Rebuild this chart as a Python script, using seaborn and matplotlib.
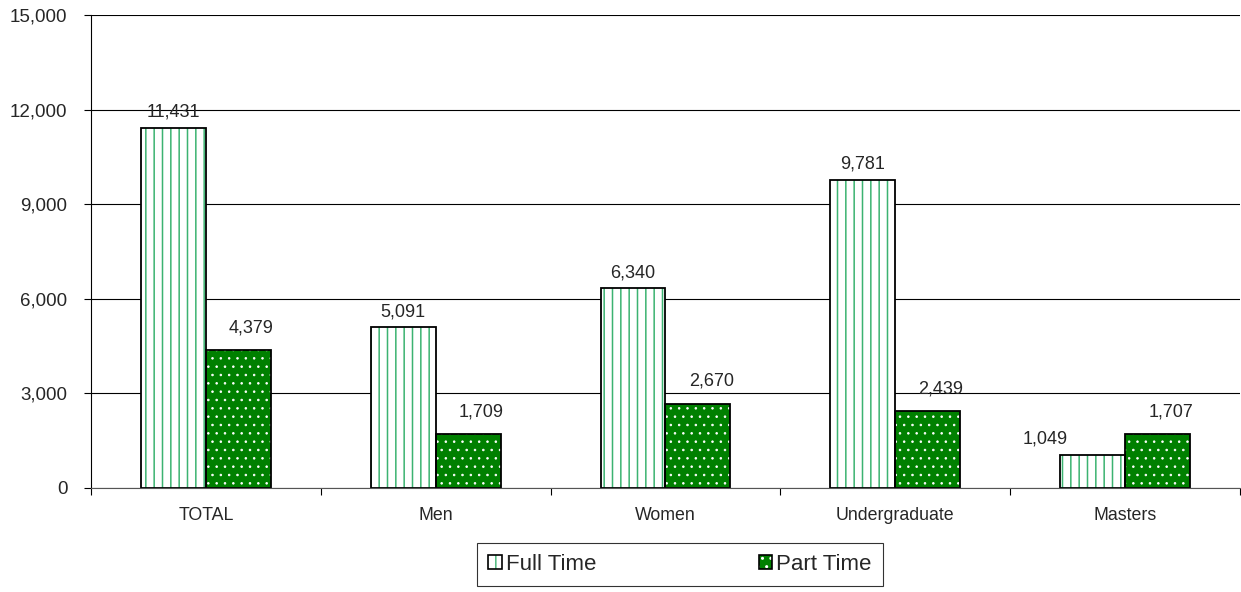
import numpy as np
import pandas as pd
import seaborn as sns
import matplotlib.pyplot as plt
from matplotlib.patches import Patch
from matplotlib.ticker import FuncFormatter

# ---- data ----
categories = ["TOTAL", "Men", "Women", "Undergraduate", "Masters"]
series = ["Full Time", "Part Time"]
full_time = [11431, 5091, 6340, 9781, 1049]
part_time = [4379, 1709, 2670, 2439, 1707]
y_ticks = [0, 3000, 6000, 9000, 12000, 15000]

df = pd.DataFrame({
    "category": categories * 2,
    "status": [series[0]] * len(categories) + [series[1]] * len(categories),
    "value": full_time + part_time,
})

# ---- style ----
sns.set_style("white")
plt.rcParams["font.family"] = ["Liberation Sans", "DejaVu Sans"]
plt.rcParams["hatch.linewidth"] = 1.0

HATCH_GREEN = "#3cb371"
DARK_GREEN = "#008000"


def style_hatch(patch, color, hatch, lw):
    patch.set_edgecolor(color)
    patch.set_hatch(hatch)
    if hasattr(patch, "set_hatch_linewidth"):
        patch.set_hatch_linewidth(lw)


fig = plt.figure(figsize=(12.41, 5.92), dpi=100)
ax = fig.add_axes([0.0733, 0.1757, 0.9259, 0.799])

# filled / hatched bars
sns.barplot(data=df, x="category", y="value", hue="status",
            order=categories, hue_order=series,
            palette={"Full Time": "white", "Part Time": DARK_GREEN},
            width=0.565, gap=0, saturation=1, linewidth=0,
            errorbar=None, legend=False, ax=ax)

for p in ax.containers[0]:
    style_hatch(p, HATCH_GREEN, "||", 1.1)
for p in ax.containers[1]:
    style_hatch(p, "white", "..", 0.6)

# black outlines on top
sns.barplot(data=df, x="category", y="value", hue="status",
            order=categories, hue_order=series,
            palette={"Full Time": "black", "Part Time": "black"},
            width=0.565, gap=0, fill=False, linewidth=1.3,
            errorbar=None, legend=False, ax=ax)

# value labels (Excel-ish placement: part time nudged right/up)
label_offsets = {0: (0, 5), 1: (9.5, 10)}
special = {("Masters", 0): (-34, 5)}
for s_idx, (cont, vals) in enumerate(zip(ax.containers[:2], [full_time, part_time])):
    for cat, p, v in zip(categories, cont, vals):
        dx, dy = special.get((cat, s_idx), label_offsets[s_idx])
        ax.annotate(f"{v:,}", xy=(p.get_x() + p.get_width() / 2, p.get_height()),
                    xytext=(dx, dy), textcoords="offset points",
                    ha="center", va="bottom", fontsize=13)

# axes
ax.set_ylim(0, 15000)
ax.set_xlim(-0.5, len(categories) - 0.5)
ax.set_yticks(y_ticks)
ax.yaxis.set_major_formatter(FuncFormatter(lambda v, _: f"{v:,.0f}"))
ax.set_xlabel("")
ax.set_ylabel("")

ax.yaxis.grid(True, color="black", linewidth=0.8)
ax.set_axisbelow(True)

ax.tick_params(axis="y", left=True, length=5, width=0.8, pad=12,
               labelsize=13.5, color="black")
ax.tick_params(axis="x", which="major", length=0, pad=14, labelsize=12.8)
ax.set_xticks(np.arange(len(categories) + 1) - 0.5, minor=True)
ax.tick_params(axis="x", which="minor", bottom=True, length=5, width=0.8,
               color="black")

sns.despine(ax=ax, top=True, right=True)
ax.spines["left"].set_color("black")
ax.spines["left"].set_linewidth(0.8)
ax.spines["bottom"].set_color("#555555")
ax.spines["bottom"].set_linewidth(0.8)

# legend
ft_patch = Patch(facecolor="white", edgecolor=HATCH_GREEN, hatch="||", linewidth=0)
pt_patch = Patch(facecolor=DARK_GREEN, edgecolor="white", hatch="..", linewidth=0)
handles = [
    (ft_patch, Patch(facecolor="none", edgecolor="black", linewidth=1.2)),
    (pt_patch, Patch(facecolor="none", edgecolor="black", linewidth=1.2)),
]
leg = fig.legend(handles, series, loc="center", bbox_to_anchor=(0.548, 0.046),
                 ncol=2, frameon=True, fancybox=False, edgecolor="black",
                 fontsize=16, handlelength=0.6, handleheight=0.6,
                 handletextpad=0.2, columnspacing=7.3, borderpad=0.5)
leg.get_frame().set_linewidth(0.8)

fig.savefig("out.png", dpi=100)
